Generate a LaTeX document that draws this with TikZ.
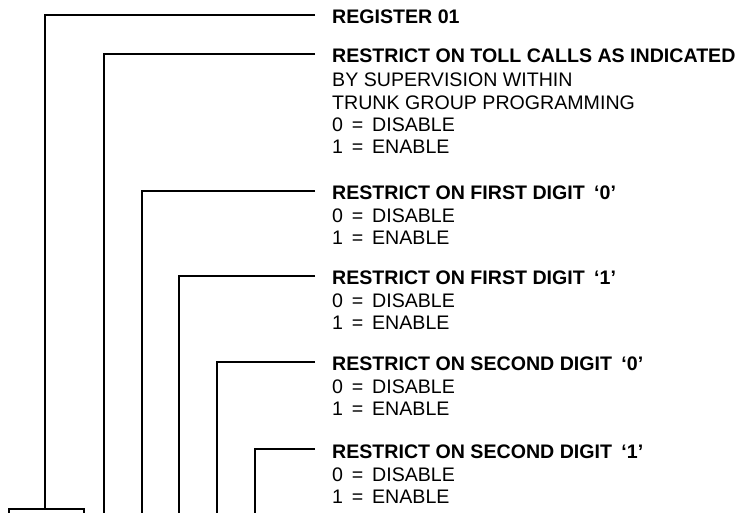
\documentclass[tikz,border=0pt]{standalone}
\usepackage{fontspec}
\setmainfont{Liberation Sans}
\begin{document}
\begin{tikzpicture}[x=1pt,y=-1pt,
  conn/.style={line width=1.8pt},
  head/.style={anchor=base west,inner sep=0pt,font=\fontsize{19.6}{22}\selectfont\bfseries},
  sub/.style={anchor=base west,inner sep=0pt,font=\fontsize{19.6}{22}\selectfont},
  boxst/.style={draw,line width=1.8pt,minimum width=75pt,minimum height=30pt,inner sep=0pt,anchor=north west}]
\useasboundingbox (0,0) rectangle (740,513);
% text
\newcommand\eqsp{\hspace{0.45em}=\hspace{0.45em}}
\newcommand\qsp{\hspace{0.2em}}
\node[head] (t1) at (332,24) {REGISTER 01};
\node[head] (t2) at (332,63) {RESTRICT ON TOLL CALLS AS INDICATED};
\node[sub] (t2a) at (332,87) {BY SUPERVISION WITHIN};
\node[sub] (t2b) at (332,110) {TRUNK GROUP PROGRAMMING};
\node[sub] (t2c) at (332,132) {0\eqsp DISABLE};
\node[sub] (t2d) at (332,154) {1\eqsp ENABLE};
\node[head] (t3) at (332,200) {RESTRICT ON FIRST DIGIT \qsp‘0’};
\node[sub] (t3a) at (332,223) {0\eqsp DISABLE};
\node[sub] (t3b) at (332,245) {1\eqsp ENABLE};
\node[head] (t4) at (332,285) {RESTRICT ON FIRST DIGIT \qsp‘1’};
\node[sub] (t4a) at (332,308) {0\eqsp DISABLE};
\node[sub] (t4b) at (332,330) {1\eqsp ENABLE};
\node[head] (t5) at (332,371) {RESTRICT ON SECOND DIGIT \qsp‘0’};
\node[sub] (t5a) at (332,394) {0\eqsp DISABLE};
\node[sub] (t5b) at (332,416) {1\eqsp ENABLE};
\node[head] (t6) at (332,458) {RESTRICT ON SECOND DIGIT \qsp‘1’};
\node[sub] (t6a) at (332,481) {0\eqsp DISABLE};
\node[sub] (t6b) at (332,503) {1\eqsp ENABLE};
% box
\node[boxst] (box) at (8,508) {};
% line ends
\coordinate (e1) at (315,15);
\coordinate (e2) at (315,54);
\coordinate (e3) at (315,191);
\coordinate (e4) at (315,276);
\coordinate (e5) at (315,362);
\coordinate (e6) at (315,449);
\coordinate (b2) at (104,520);
\coordinate (b3) at (142,520);
\coordinate (b4) at (179,520);
\coordinate (b5) at (217,520);
\coordinate (b6) at (255,520);
\draw[conn] (e1) -- (45,15) -- (box.north -| 45,0);
\draw[conn] (e2) -| (b2);
\draw[conn] (e3) -| (b3);
\draw[conn] (e4) -| (b4);
\draw[conn] (e5) -| (b5);
\draw[conn] (e6) -| (b6);
\end{tikzpicture}
\end{document}
